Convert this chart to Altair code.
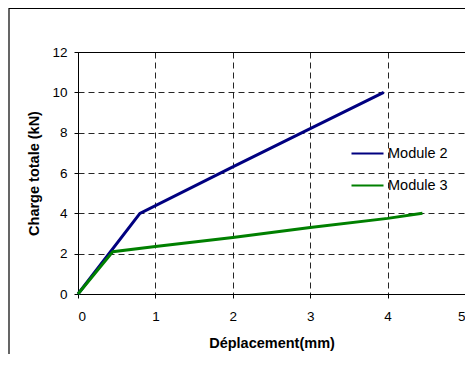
import altair as alt
import pandas as pd

# Data
m2_x = [0.0, 0.8, 2.0, 3.0, 3.95]
m2_y = [0.0, 4.0, 6.3, 8.2, 10.0]
m3_x = [0.0, 0.45, 1.0, 2.0, 3.0, 4.0, 4.45]
m3_y = [0.0, 2.1, 2.35, 2.8, 3.3, 3.75, 4.0]
series_names = ["Module 2", "Module 3"]
series_colors = ["#000080", "#008000"]
x_ticks = [0, 1, 2, 3, 4, 5]
y_ticks = [0, 2, 4, 6, 8, 10, 12]

rows = []
for i, (x, y) in enumerate(zip(m2_x, m2_y)):
    rows.append({"x": x, "y": y, "serie": series_names[0], "i": i})
for i, (x, y) in enumerate(zip(m3_x, m3_y)):
    rows.append({"x": x, "y": y, "serie": series_names[1], "i": i})
df = pd.DataFrame(rows)

FONT = "Liberation Sans"

frame = alt.Chart(pd.DataFrame({"a": [0]})).mark_rect(
    fill=None, stroke="#000", strokeWidth=1.2
).encode(
    x=alt.value(-69), x2=alt.value(600), y=alt.value(-43.5), y2=alt.value(600)
)

lines = alt.Chart(df).mark_line(strokeWidth=3).encode(
    x=alt.X("x:Q", scale=alt.Scale(domain=[0, 5], nice=False),
            axis=alt.Axis(values=x_ticks, title="Déplacement(mm)",
                          titlePadding=14, labelPadding=11)),
    y=alt.Y("y:Q", scale=alt.Scale(domain=[0, 12], nice=False),
            axis=alt.Axis(values=y_ticks, title="Charge totale (kN)",
                          titlePadding=10, labelPadding=7)),
    color=alt.Color("serie:N",
                    scale=alt.Scale(domain=series_names, range=series_colors),
                    legend=alt.Legend(title=None, orient="none",
                                      legendX=272, legendY=84,
                                      symbolType="stroke", symbolSize=1024,
                                      symbolStrokeWidth=2.2, labelFontSize=14.5,
                                      labelFont=FONT, labelColor="#000",
                                      labelOffset=3, rowPadding=8, padding=0)),
    order=alt.Order("i:Q"),
)

chart = alt.layer(frame, lines).properties(
    width=387, height=242,
    padding={"left": 70, "top": 44, "right": 0, "bottom": 60},
    autosize=alt.AutoSizeParams(type="none"),
    background="white",
).configure_view(
    stroke="#000", strokeWidth=1
).configure_axis(
    grid=True, gridColor="#000", gridDash=[6, 4], gridWidth=1, gridOpacity=0.85,
    domainColor="#000", tickColor="#000", tickSize=4,
    labelFont=FONT, labelFontSize=13.5, labelColor="#000",
    titleFont=FONT, titleFontSize=14.5, titleFontWeight="bold", titleColor="#000",
)

chart.save("out.html", embed_options={"renderer": "svg", "actions": False})
